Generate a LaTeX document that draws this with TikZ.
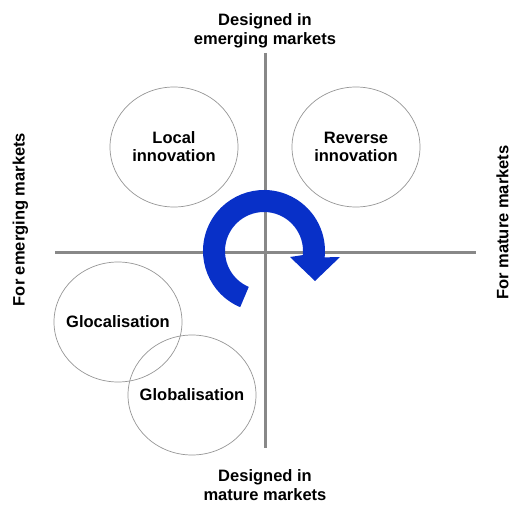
\documentclass[tikz,border=0pt]{standalone}
\usepackage{fontspec}
\setmainfont{Liberation Sans}
\usetikzlibrary{positioning, shapes.geometric}
\definecolor{axisgray}{RGB}{136,136,136}
\definecolor{ringgray}{RGB}{150,150,150}
\definecolor{arrowblue}{RGB}{8,48,200}

\begin{document}
\begin{tikzpicture}[x=1pt, y=1pt, font=\fontsize{16.5}{19}\selectfont\bfseries]
    \tikzstyle{quad} = [draw=ringgray, line width=0.7pt, ellipse, minimum width=128pt, minimum height=120pt, inner sep=0pt]
    \tikzstyle{quadtext} = [align=center, font=\fontsize{16.5}{18}\selectfont\bfseries]
    \tikzstyle{axis} = [draw=axisgray, line width=3pt]
    \tikzstyle{axislabel} = [align=center, inner sep=0pt]
    \useasboundingbox (0,0) rectangle (513,504);
    % the two axes
    \coordinate (vtop) at (265,451);
    \coordinate (vbot) at (265,56);
    \coordinate (hleft) at (55,252);
    \coordinate (hright) at (476,252);
    \draw[axis] (vtop) -- (vbot);
    \draw[axis] (hleft) -- (hright);
    \node [axislabel, above=5pt of vtop] (desemerg) {Designed in\\emerging markets};
    \node [axislabel, below=21pt of vbot] (desmature) {Designed in\\mature markets};
    \node [axislabel, rotate=90] at (20.5,284.5) (foremerg) {For emerging markets};
    \node [axislabel, rotate=90] at (502.5,281.5) (formature) {For mature markets};
    % quadrant strategies
    \node [quad, label={[quadtext]center:Local\\innovation}] at (174,357) (local) {};
    \node [quad, label={[quadtext]center:Reverse\\innovation}] at (356,357) (reverse) {};
    \node [quad, label={[quadtext]center:Glocalisation}] at (118,182) (glocal) {};
    \node [quad, label={[quadtext]center:Globalisation}] at (192,109) (global) {};
    % turning arrow round the origin
    \begin{scope}[shift={(264,253)}]
        \fill[arrowblue] (247:61pt) arc[start angle=247, end angle=-6, radius=61pt]
            -- (76pt,-6pt) -- (51pt,-30pt) -- (26pt,-6pt)
            -- (-6:39pt) arc[start angle=-6, end angle=247, radius=39pt] -- cycle;
    \end{scope}
\end{tikzpicture}
\end{document}
